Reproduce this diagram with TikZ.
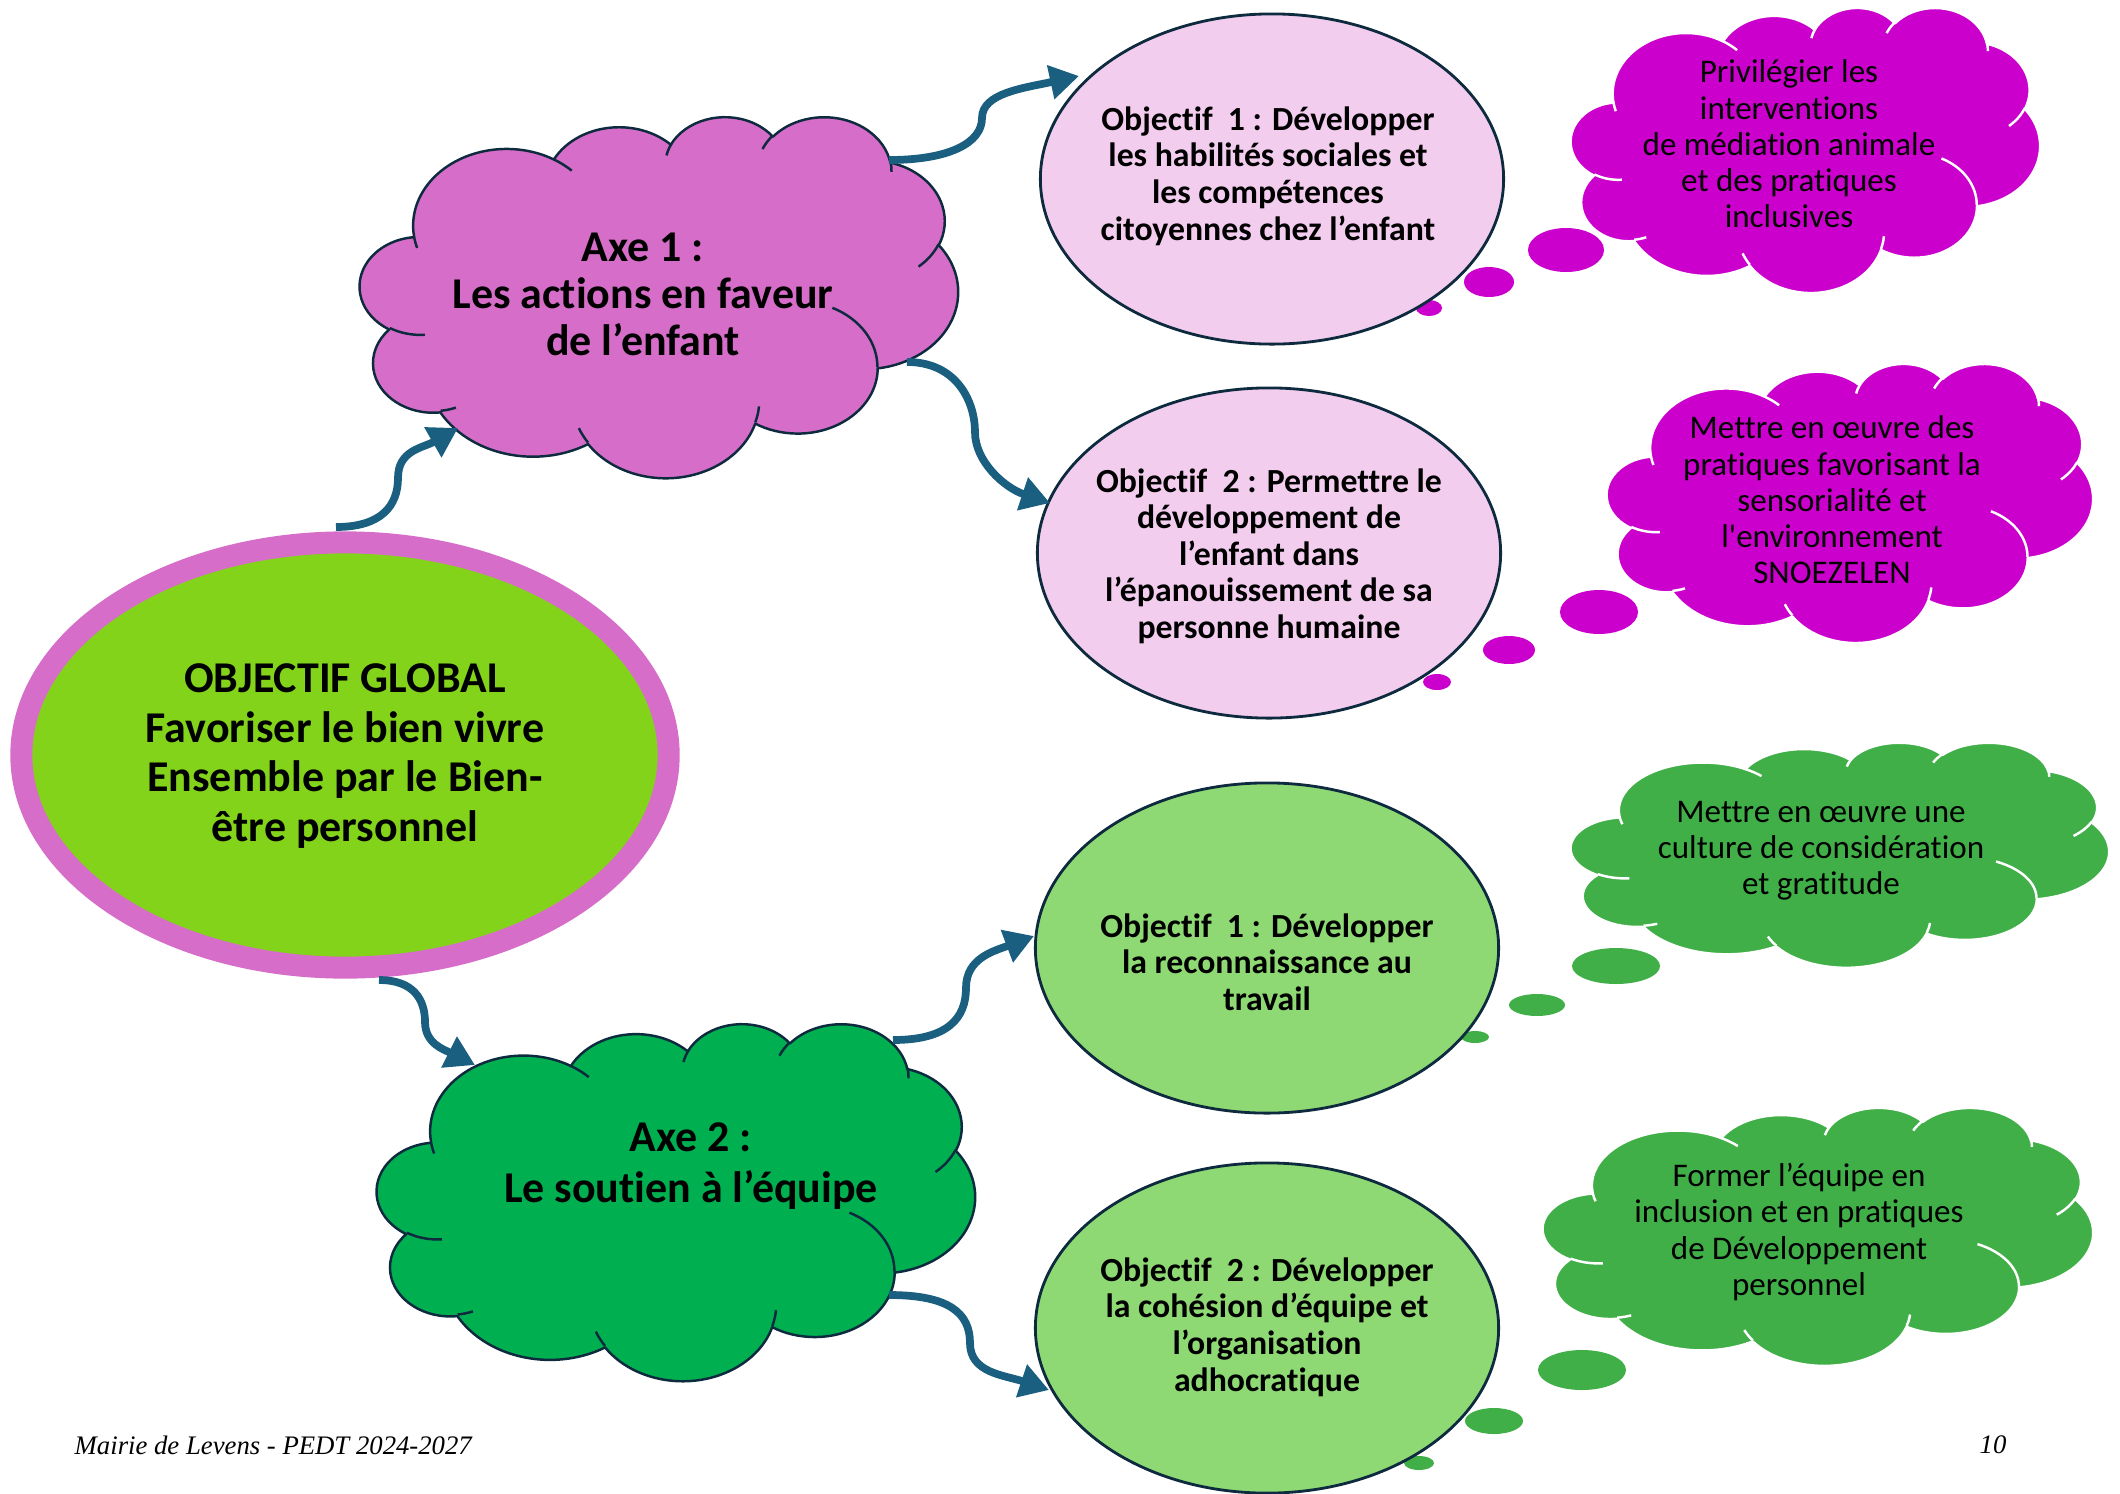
\documentclass[tikz,border=0pt]{standalone}
\usepackage{fontspec}
\setmainfont[Ligatures=NoCommon]{Carlito}
\newfontfamily\footfont{Liberation Serif}
\usetikzlibrary{shapes.geometric,arrows.meta,calc}
\definecolor{pinkc}{HTML}{D66DC8}
\definecolor{lightpink}{HTML}{F2CDEE}
\definecolor{magc}{HTML}{CC00CC}
\definecolor{gglob}{HTML}{83D31B}
\definecolor{axegreen}{HTML}{00AF50}
\definecolor{lightg}{HTML}{8FD974}
\definecolor{cloudg}{HTML}{41AF48}
\definecolor{arrowc}{HTML}{1A5E80}
\definecolor{outl}{HTML}{0E2A3E}
% Word-style cloud: outer arcs (x radius / y radius / start / sweep), box 43.2 x 43.2
\newcommand\cloudarcs{6.753/9.190/-190.48748/123.78053, 5.333/7.267/-144.10238/89.94523, 4.365/5.945/-145.80792/99.72302, 4.857/6.595/-130.98607/117.24173, 5.333/7.273/-78.70888/109.02692, 6.775/9.220/-46.26725/130.269, 5.785/7.867/0.62502/114.03333, 6.752/9.215/22.4516/115.17255, 7.720/10.543/66.24263/75.71102, 4.360/5.918/-274.94208/146.73557, 4.345/5.945/-246.8285/152.51885}
\newcommand\cloudinner{4.693/26.177/4.345/5.945/86.742/26.4295, 6.928/34.899/4.360/5.918/73.6105/11.4475, 16.478/39.090/6.752/9.215/137.6242/14.0811, 28.827/34.751/6.752/9.215/6.4533/15.9984, 34.129/22.954/5.785/7.867/-70.2924/70.9174, 41.798/15.354/5.333/7.273/30.318/27.7515, 38.324/5.426/4.857/6.595/-13.7443/14.8589, 29.078/3.952/4.857/6.595/-149.1815/18.1954, 22.141/4.720/4.365/5.945/-163.4943/17.6864, 14.000/5.192/6.753/9.190/-66.707/12.3194, 4.127/15.789/6.753/9.190/157.6544/11.8582}
\newcommand\wcarc[4]{%
  \pgfmathparse{atan2(#1*sin(#3), #2*cos(#3))}\xdef\cts{\pgfmathresult}%
  \pgfmathparse{atan2(#1*sin(#3+#4), #2*cos(#3+#4))}\xdef\cte{\pgfmathresult}%
  \pgfmathparse{\cte-\cts}\let\tmpd\pgfmathresult
  \pgfmathparse{\tmpd+360*and(#4>0,\tmpd<0)-360*and(#4<0,\tmpd>0)}\xdef\cdt{\pgfmathresult}%
}
% #1 left, #2 top, #3 width, #4 height (picture units), #5 fill, #6 line colour
\newcommand\wcloud[6]{%
  \pgfmathsetmacro\cwx{#3/43.2*0.01}%
  \pgfmathsetmacro\cwy{#4/43.2*0.01}%
  \begin{scope}[shift={(#1,#2)}, x=\cwx cm, y=-\cwy cm]
    \path[fill=#5, draw=#6, line width=0.7pt, line join=round] (3.900,14.370)
      \foreach \ra/\rb/\sa/\sw in \cloudarcs {
        \pgfextra{\wcarc{\ra}{\rb}{\sa}{\sw}}
        arc[x radius=\ra, y radius=\rb, start angle=\cts, delta angle=\cdt]
      } -- cycle;
    \foreach \px/\py/\ra/\rb/\sa/\sw in \cloudinner {
      \wcarc{\ra}{\rb}{\sa}{\sw}
      \draw[#6, line width=0.7pt] (\px,\py) arc[x radius=\ra, y radius=\rb, start angle=\cts, delta angle=\cdt];
    }
  \end{scope}}
\begin{document}
\begin{tikzpicture}[x=0.01cm,y=-0.01cm,
  objell/.style={ellipse, draw=outl, line width=0.8pt, inner sep=0pt, minimum width=46.3mm, minimum height=33mm, align=center},
  objtext/.style={font=\fontsize{9.6}{10.4}\selectfont\bfseries, align=center, inner sep=0pt},
  cloudtext/.style={font=\fontsize{9.4}{10.3}\selectfont, align=center, inner sep=0pt},
  axetext/.style={font=\fontsize{12.5}{13.4}\selectfont\bfseries, align=center, inner sep=0pt},
  conn/.style={draw=arrowc, line width=2.2pt, -{Triangle[length=2.9mm,width=3.3mm]}},
  foot/.style={font=\footfont\itshape\fontsize{7.6}{9}\selectfont, inner sep=0pt}
]
\useasboundingbox (0,0) rectangle (2120,1493);

% thought bubbles
\fill[magc] (1566,250) ellipse [x radius=38, y radius=22];
\fill[magc] (1489,282) ellipse [x radius=25, y radius=15];
\fill[magc] (1429,308) ellipse [x radius=13, y radius=8];
\fill[magc] (1599,612) ellipse [x radius=39, y radius=22];
\fill[magc] (1509,650) ellipse [x radius=26, y radius=14];
\fill[magc] (1437,682) ellipse [x radius=14, y radius=8];
\fill[cloudg] (1616,966) ellipse [x radius=44, y radius=18];
\fill[cloudg] (1537,1005) ellipse [x radius=28, y radius=11];
\fill[cloudg] (1475,1037) ellipse [x radius=14, y radius=6];
\fill[cloudg] (1582,1370) ellipse [x radius=44, y radius=20];
\fill[cloudg] (1494,1421) ellipse [x radius=29, y radius=13];
\fill[cloudg] (1419,1463) ellipse [x radius=15, y radius=7];

% objective ellipses
\node[objell, fill=lightpink] (o1) at (1272,179) {};
\node[objell, fill=lightpink] (o2) at (1269,553) {};
\node[objell, fill=lightg] (o3) at (1267,948) {};
\node[objell, fill=lightg] (o4) at (1267,1328) {};

% global ellipse
\node[ellipse, fill=gglob, draw=pinkc, line width=2.2mm, minimum width=64.7mm, minimum height=42.5mm, inner sep=0pt] (glob) at (345,755) {};

% axis clouds
\wcloud{360}{116}{598}{361}{pinkc}{outl}
\wcloud{377}{1023}{598}{357}{axegreen}{outl}
% side clouds
\wcloud{1571}{7}{469}{285}{magc}{white}
\wcloud{1607}{363}{486}{279}{magc}{white}
\wcloud{1571}{742}{538}{225}{cloudg}{white}
\wcloud{1543}{1107}{550}{258}{cloudg}{white}

% connector end points
\coordinate (a1s) at (336,527); \coordinate (a1m) at (398,478); \coordinate (a1e) at (458,428);
\coordinate (a2s) at (889,160); \coordinate (a2m) at (982,118); \coordinate (a2e) at (1079,76);
\coordinate (a3s) at (907,362); \coordinate (a3m) at (975,432); \coordinate (a3e) at (1050,503);
\coordinate (a4s) at (379,980); \coordinate (a4m) at (425,1022); \coordinate (a4e) at (475,1065);
\coordinate (a5s) at (893,1040); \coordinate (a5m) at (966,988); \coordinate (a5e) at (1034,936);
\coordinate (a6s) at (889,1295); \coordinate (a6m) at (970,1343); \coordinate (a6e) at (1049,1390);

\draw[conn] (a1s) .. controls ($(a1s)+(45,0)$) and ($(a1m)+(0,28)$) .. (a1m) .. controls ($(a1m)+(0,-28)$) and ($(a1e)+(-35,20)$) .. (a1e);
\draw[conn] (a2s) .. controls ($(a2s)+(60,0)$) and ($(a2m)+(0,25)$) .. (a2m) .. controls ($(a2m)+(0,-25)$) and ($(a2e)+(-55,12)$) .. (a2e);
\draw[conn] (a3s) .. controls ($(a3s)+(50,0)$) and ($(a3m)+(0,-30)$) .. (a3m) .. controls ($(a3m)+(0,30)$) and ($(a3e)+(-45,-15)$) .. (a3e);
\draw[conn] (a4s) .. controls ($(a4s)+(35,0)$) and ($(a4m)+(0,-22)$) .. (a4m) .. controls ($(a4m)+(0,22)$) and ($(a4e)+(-30,-15)$) .. (a4e);
\draw[conn] (a5s) .. controls ($(a5s)+(55,0)$) and ($(a5m)+(0,30)$) .. (a5m) .. controls ($(a5m)+(0,-30)$) and ($(a5e)+(-40,15)$) .. (a5e);
\draw[conn] (a6s) .. controls ($(a6s)+(60,0)$) and ($(a6m)+(0,-30)$) .. (a6m) .. controls ($(a6m)+(0,30)$) and ($(a6e)+(-45,-15)$) .. (a6e);

% texts
\node[font=\fontsize{12.5}{14.2}\selectfont\bfseries, align=center, inner sep=0pt] (globt) at (345,756)
  {OBJECTIF GLOBAL\\Favoriser le bien vivre\\Ensemble par le Bien-\\être personnel};
\node[axetext] (axe1t) at (643,294) {Axe 1 :\\Les actions en faveur\\de l’enfant};
\node[axetext, font=\fontsize{12.5}{14.4}\selectfont\bfseries] (axe2t) at (691,1166) {Axe 2 :\\Le soutien à l’équipe};

\node[objtext] (o1t) at (1268,176) {Objectif\hspace{0.45em}1 : Développer\\les habilités sociales et\\les compétences\\citoyennes chez l’enfant};
\node[objtext] (o2t) at (1269,556) {Objectif\hspace{0.45em}2 : Permettre le\\développement de\\l’enfant dans\\l’épanouissement de sa\\personne humaine};
\node[objtext] (o3t) at (1267,962) {Objectif\hspace{0.45em}1 : Développer\\la reconnaissance au\\travail};
\node[objtext] (o4t) at (1267,1327) {Objectif\hspace{0.45em}2 : Développer\\la cohésion d’équipe et\\l’organisation\\adhocratique};

\node[cloudtext] (c1t) at (1789,144) {Privilégier les\\interventions\\de médiation animale\\et des pratiques\\inclusives};
\node[cloudtext] (c2t) at (1832,500) {Mettre en œuvre des\\pratiques favorisant la\\sensorialité et\\l\textquotesingle environnement\\SNOEZELEN};
\node[cloudtext] (c3t) at (1821,851) {Mettre en œuvre une\\culture de considération\\et gratitude};
\node[cloudtext] (c4t) at (1799,1232) {Former l’équipe en\\inclusion et en pratiques\\de Développement\\personnel};

\node[foot, anchor=west] (foot1) at (74,1445) {Mairie de Levens - PEDT 2024-2027};
\node[foot] (foot2) at (1993,1445) {10};
\end{tikzpicture}
\end{document}
